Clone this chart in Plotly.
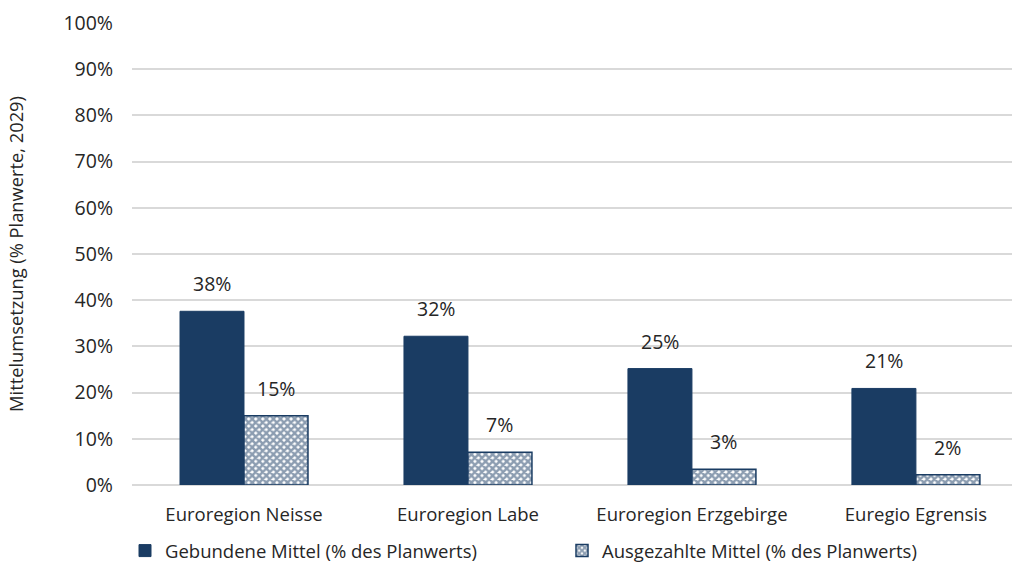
import plotly.graph_objects as go

regions = ["Euroregion Neisse", "Euroregion Labe", "Euroregion Erzgebirge", "Euregio Egrensis"]
gebunden = [0.376, 0.322, 0.252, 0.209]
ausgezahlt = [0.150, 0.071, 0.034, 0.022]
series_names = ["Gebundene Mittel (% des Planwerts)", "Ausgezahlte Mittel (% des Planwerts)"]
y_ticks = [0, 0.1, 0.2, 0.3, 0.4, 0.5, 0.6, 0.7, 0.8, 0.9, 1.0]

NAVY = "#1a3c63"
TEXT = "#262626"
FONT = "Open Sans"
GAP = 0.4286

fig = go.Figure()
fig.add_trace(go.Bar(
    x=regions, y=gebunden, name=series_names[0],
    marker=dict(color=NAVY, line=dict(color=NAVY, width=1)),
))
fig.add_trace(go.Bar(
    x=regions, y=ausgezahlt, name=series_names[1],
    marker=dict(
        color="white",
        line=dict(color=NAVY, width=1.5),
        pattern=dict(shape="x", fgcolor=NAVY, bgcolor="white", size=5, solidity=0.72),
    ),
))

# value labels above each bar
half = 0.5 * (1 - GAP) / 2
for i, (a, b) in enumerate(zip(gebunden, ausgezahlt)):
    for val, dx in ((a, -half), (b, half)):
        fig.add_annotation(
            x=i + dx, y=val, xref="x", yref="y",
            text=f"{round(val * 100):.0f}%", showarrow=False,
            yanchor="bottom", yshift=12,
            font=dict(family=FONT, size=19.5, color=TEXT),
        )

fig.update_layout(
    width=1012, height=563,
    margin=dict(l=132, r=0, t=23, b=78, autoexpand=False),
    paper_bgcolor="white", plot_bgcolor="white",
    barmode="group", bargap=GAP, bargroupgap=0,
    font=dict(family=FONT, size=18.5, color=TEXT),
    showlegend=True,
    legend=dict(
        orientation="h", x=-7 / 880, xanchor="left", y=-0.143, yanchor="middle",
        entrywidth=392, entrywidthmode="pixels",
        font=dict(family=FONT, size=18.5, color=TEXT),
    ),
)
fig.update_xaxes(
    range=[-0.5, 3.429], showgrid=False, showline=False, ticks="",
    tickfont=dict(family=FONT, size=18.5, color=TEXT), ticklabelstandoff=16,
)
fig.update_yaxes(
    range=[0, 1], tickvals=y_ticks, tickformat=".0%",
    showgrid=True, gridcolor="#d9d9d9", gridwidth=1.5,
    zeroline=True, zerolinecolor="#d9d9d9", zerolinewidth=1.5,
    showline=False, ticks="", ticklabelstandoff=18,
    tickfont=dict(family=FONT, size=19.5, color=TEXT),
    title=dict(text="Mittelumsetzung (% Planwerte, 2029)", standoff=35,
               font=dict(family=FONT, size=18.3, color=TEXT)),
)

fig.write_html("out.html")
